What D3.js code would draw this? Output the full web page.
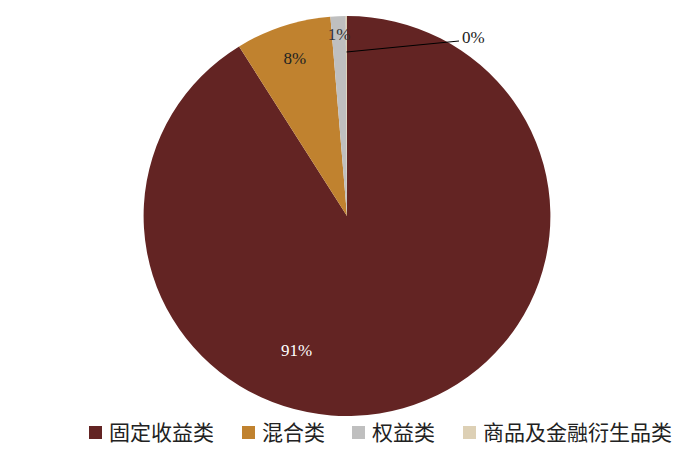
<!DOCTYPE html>
<html><head><meta charset="utf-8">
<script src="https://cdn.jsdelivr.net/npm/d3@7"></script>
<style>body{margin:0;background:#fff}svg{display:block}</style>
</head><body>
<svg id="c" width="700" height="462"></svg>
<script>
const categories = ["固定收益类", "混合类", "权益类", "商品及金融衍生品类"];
const values = [91.1, 7.6, 1.2, 0.1];
const labels = ["91%", "8%", "1%", "0%"];
const colors = ["#632423", "#C0822F", "#BFBFBF", "#DDD0B5"];

const svg = d3.select("#c");
const cx = 347, cy = 216, R = 200;
const g = svg.append("g").attr("transform", `translate(${cx},${cy})`);
const pie = d3.pie().sort(null).value(d => d)(values);
const arc = d3.arc().innerRadius(0).outerRadius(R);

g.append("g").attr("transform", "scale(1.017,1)")
  .selectAll("path").data(pie).enter().append("path")
  .attr("d", arc).attr("fill", (d, i) => colors[i]);

// label placement (angle offset from slice middle in rad, radius fraction)
const lblCfg = [
  {da: 0.64, rf: 0.715, fill: "#fff"},
  {da: 0.0, rf: 0.83, fill: "#222"},
  {da: 0.0, rf: 0.91, fill: "#333"},
  null
];
const mid = d => (d.startAngle + d.endAngle) / 2;
pie.forEach((d, i) => {
  const c = lblCfg[i];
  if (!c) return;
  const a = mid(d) + c.da, r = R * c.rf;
  g.append("text").attr("x", r * Math.sin(a)).attr("y", -r * Math.cos(a))
    .attr("dy", "0.35em").attr("text-anchor", "middle")
    .attr("font-family", "Liberation Serif, serif").attr("font-size", 17)
    .attr("fill", c.fill).text(labels[i]);
});
// leader line for last slice
{
  const d = pie[3], a = mid(d), r0 = R * 0.82;
  const x0 = r0 * Math.sin(a), y0 = -r0 * Math.cos(a);
  const x1 = 112, y1 = -175;
  g.append("line").attr("x1", x0).attr("y1", y0).attr("x2", x1).attr("y2", y1)
    .attr("stroke", "#000").attr("stroke-width", 1.2);
  g.append("text").attr("x", x1 + 3).attr("y", y1 - 4).attr("dy", "0.35em")
    .attr("font-family", "Liberation Serif, serif").attr("font-size", 17)
    .attr("fill", "#222").text(labels[3]);
}

// legend
const lx = [89, 242, 352, 463];
const lg = svg.append("g");
categories.forEach((c, i) => {
  lg.append("rect").attr("x", lx[i]).attr("y", 426).attr("width", 13).attr("height", 13)
    .attr("fill", colors[i]);
  lg.append("text").attr("x", lx[i] + 20).attr("y", 432.5).attr("dy", "0.36em")
    .attr("font-family", "Noto Sans CJK SC, sans-serif").attr("font-size", 21)
    .attr("fill", "#222").text(c);
});
</script>
</body></html>
